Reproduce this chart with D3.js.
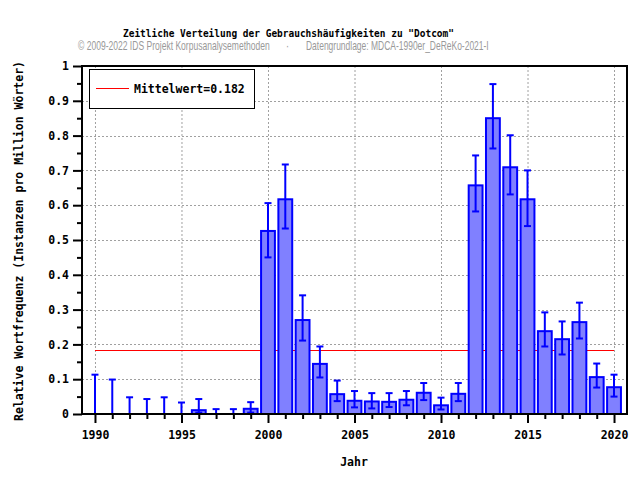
<!DOCTYPE html>
<html>
<head>
<meta charset="utf-8">
<script src="https://cdn.jsdelivr.net/npm/d3@7"></script>
<style>
  body { margin: 0; background: #fff; }
  svg { display: block; }
  .mono { font-family: "DejaVu Sans Mono", monospace; font-weight: bold; }
</style>
</head>
<body>
<svg id="chart" width="640" height="480"></svg>
<script>
// Gebrauchshäufigkeit pro Jahr (Instanzen pro Million Wörter)
const years = d3.range(1990, 2021);
const values = [0, 0, 0, 0, 0, 0, 0.011, 0, 0, 0.015,
  0.526, 0.617, 0.27, 0.144, 0.057, 0.038, 0.036, 0.035, 0.041, 0.061,
  0.025, 0.058, 0.657, 0.85, 0.709, 0.617, 0.238, 0.215, 0.264, 0.106, 0.077];
const errLow = [0, 0, 0, 0, 0, 0, 0.004, 0, 0, 0.004,
  0.45, 0.533, 0.211, 0.105, 0.037, 0.019, 0.016, 0.02, 0.025, 0.04,
  0.013, 0.037, 0.582, 0.763, 0.631, 0.54, 0.194, 0.171, 0.217, 0.076, 0.05];
const errHigh = [0.113, 0.099, 0.048, 0.043, 0.048, 0.033, 0.043, 0.014, 0.014, 0.034,
  0.606, 0.717, 0.341, 0.194, 0.096, 0.066, 0.06, 0.06, 0.066, 0.089,
  0.047, 0.089, 0.743, 0.948, 0.801, 0.70, 0.292, 0.266, 0.32, 0.145, 0.113];
const mean = 0.182;
const yTicks = d3.range(0, 11).map((i) => i / 10);
const yTickLabels = ["0", "0.1", "0.2", "0.3", "0.4", "0.5", "0.6", "0.7", "0.8", "0.9", "1"];
const xTicks = [1990, 1995, 2000, 2005, 2010, 2015, 2020];

const svg = d3.select("#chart");
const plotL = 82, plotR = 627, plotT = 66, plotB = 414;

const x = d3.scaleLinear().domain([1989.25, 2020.75]).range([plotL, plotR]);
const y = d3.scaleLinear().domain([0, 1]).range([plotB, plotT]);
const barW = x(1990.8) - x(1990);

// grid
const grid = svg.append("g")
  .attr("stroke", "#a0a0a0")
  .attr("stroke-dasharray", "2,2");
grid.selectAll(".gx").data(xTicks).join("line")
  .attr("x1", (d) => x(d) + 0.5).attr("x2", (d) => x(d) + 0.5)
  .attr("y1", plotT).attr("y2", plotB);
grid.selectAll(".gy").data(yTicks.slice(1, -1)).join("line")
  .attr("x1", plotL).attr("x2", plotR)
  .attr("y1", (d) => Math.round(y(d)) + 0.5).attr("y2", (d) => Math.round(y(d)) + 0.5);

// mean line (behind the bars)
svg.append("rect")
  .attr("x", x(1990)).attr("width", x(2020) - x(1990))
  .attr("y", Math.floor(y(mean))).attr("height", 1)
  .attr("fill", "#ff0000");

// bars
svg.append("g").selectAll("rect")
  .data(years.map((yr, i) => ({ yr, v: values[i] })).filter((d) => d.v > 0))
  .join("rect")
  .attr("x", (d) => x(d.yr) - barW / 2)
  .attr("width", barW)
  .attr("y", (d) => y(d.v))
  .attr("height", (d) => y(0) - y(d.v))
  .attr("fill", "#8080ff")
  .attr("stroke", "#0000ff")
  .attr("stroke-width", 2);

// error bars
const eb = svg.append("g").attr("stroke", "#0000ff").attr("stroke-width", 2);
years.forEach((yr, i) => {
  const cx = x(yr);
  eb.append("line").attr("x1", cx).attr("x2", cx)
    .attr("y1", y(errLow[i])).attr("y2", y(errHigh[i]));
  [errLow[i], errHigh[i]].forEach((e) => {
    eb.append("line").attr("x1", cx - 3.5).attr("x2", cx + 3.5)
      .attr("y1", y(e)).attr("y2", y(e));
  });
});

// frame + axes
svg.append("rect")
  .attr("x", plotL).attr("y", plotT)
  .attr("width", plotR - plotL).attr("height", plotB - plotT)
  .attr("fill", "none").attr("stroke", "#000").attr("stroke-width", 2);

const yAxis = d3.axisLeft(y).tickValues(yTicks).tickSize(9).tickPadding(4)
  .tickFormat((d, i) => yTickLabels[i]);
const gy = svg.append("g").attr("transform", `translate(${plotL},0)`).call(yAxis);
gy.select(".domain").remove();
gy.selectAll(".tick line").attr("stroke-width", 2);
gy.selectAll(".tick text").attr("class", "mono").attr("font-size", 11.5).attr("fill", "#000");
svg.append("g").attr("transform", `translate(${plotL},0)`)
  .call(d3.axisLeft(y).tickValues(d3.range(0.05, 1, 0.1)).tickSize(5).tickFormat(""))
  .call((g) => g.select(".domain").remove())
  .selectAll("line").attr("stroke-width", 2);

const xAxis = d3.axisBottom(x).tickValues(xTicks).tickSize(9).tickPadding(8)
  .tickFormat(d3.format("d"));
const gx = svg.append("g").attr("transform", `translate(0,${plotB})`).call(xAxis);
gx.select(".domain").remove();
gx.selectAll(".tick line").attr("stroke-width", 2);
gx.selectAll(".tick text").attr("class", "mono").attr("font-size", 11.5).attr("fill", "#000");
svg.append("g").attr("transform", `translate(0,${plotB})`)
  .call(d3.axisBottom(x).tickValues(years.filter((d) => d % 5 !== 0)).tickSize(5).tickFormat(""))
  .call((g) => g.select(".domain").remove())
  .selectAll("line").attr("stroke-width", 2);

// legend
svg.append("rect").attr("x", 89.5).attr("y", 69.5).attr("width", 165).attr("height", 39)
  .attr("fill", "#fff").attr("stroke", "#000");
svg.append("rect").attr("x", 96).attr("width", 33).attr("y", 88).attr("height", 1)
  .attr("fill", "#ff0000");
svg.append("text").attr("class", "mono").attr("x", 134).attr("y", 93)
  .attr("font-size", 11.5).text("Mittelwert=" + mean);

// titles
svg.append("text").attr("class", "mono").attr("x", 123).attr("y", 37)
  .attr("font-size", 10.5).attr("textLength", 331).attr("lengthAdjust", "spacingAndGlyphs")
  .text("Zeitliche Verteilung der Gebrauchshäufigkeiten zu \"Dotcom\"");

// condensed grey credit line, squeezed horizontally to the reference width
function narrowText(x0, width, str) {
  const t = svg.append("text").attr("fill", "#999")
    .attr("font-family", "'Liberation Sans', Arial, sans-serif")
    .attr("font-size", 12).attr("y", 50).text(str);
  const k = width / t.node().getComputedTextLength();
  t.attr("transform", `translate(${x0},0) scale(${k},1)`);
}
narrowText(78, 192, "© 2009-2022 IDS Projekt Korpusanalysemethoden");
narrowText(286, 3, "·");
narrowText(306, 183, "Datengrundlage: MDCA-1990er_DeReKo-2021-I");

svg.append("text").attr("class", "mono").attr("x", 354).attr("y", 466)
  .attr("text-anchor", "middle").attr("font-size", 11.5).text("Jahr");
svg.append("text").attr("class", "mono")
  .attr("transform", "translate(23,241) rotate(-90)")
  .attr("text-anchor", "middle").attr("font-size", 11.5)
  .text("Relative Wortfrequenz (Instanzen pro Million Wörter)");
</script>
</body>
</html>
